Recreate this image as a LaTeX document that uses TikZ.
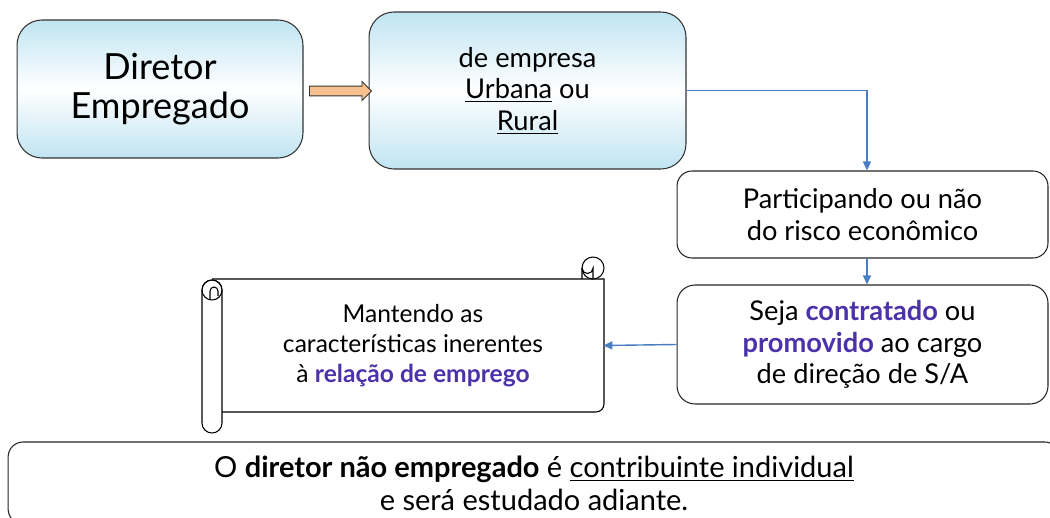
\documentclass[tikz,border=0pt]{standalone}
\usepackage{fontspec}
\setmainfont{Lato}
\usetikzlibrary{shapes.arrows,arrows.meta,positioning,calc}
\definecolor{boxblue}{RGB}{192,228,242}
\definecolor{arrowfill}{RGB}{248,192,142}
\definecolor{linkblue}{RGB}{74,126,194}
\definecolor{purpletext}{RGB}{75,50,170}
\newcommand{\hl}[1]{\textbf{\color{purpletext}#1}}
\tikzset{
  bluebox/.style={draw=black!80, line width=0.6pt, rounded corners=0.5cm,
    top color=boxblue, bottom color=boxblue, middle color=white,
    align=center, inner sep=0pt},
  whitebox/.style={draw=black!85, line width=0.6pt, rounded corners=0.3cm,
    fill=white, align=center, inner sep=0pt},
  boxtext/.style={font=\fontsize{15.5}{18}\selectfont},
  link/.style={draw=linkblue, line width=0.8pt,
    -{Triangle[length=0.18cm,width=0.16cm]}},
  bigarrow/.style={single arrow, draw=black!80, fill=arrowfill, line width=0.5pt,
    minimum height=1.24cm, minimum width=0.36cm, inner sep=0.09cm,
    single arrow head extend=0.09cm},
  scrollline/.style={line width=0.6pt}
}

\begin{document}
\begin{tikzpicture}[x=0.02cm, y=-0.02cm]
	\clip (0,0) rectangle (1050,517);
	\useasboundingbox (0,0) rectangle (1050,517);

	% top row
	\node[bluebox, font=\fontsize{20.5}{22.5}\selectfont,
		minimum width=5.72cm, minimum height=2.76cm] (dir) at (160,89)
	{Diretor\\Empregado};
	\node[bluebox, boxtext, minimum width=6.34cm, minimum height=3.14cm] (emp) at (527.5,90.5)
	{de empresa\\\underline{Urbana} ou\\\underline{Rural}};
	\node[bigarrow] (arw) at (338,91) {};

	% right column
	\node[whitebox, boxtext, minimum width=7.42cm, minimum height=1.74cm] (risco) at (862.5,214.5)
	{Participando ou não\\do risco econômico};
	\node[whitebox, boxtext, rounded corners=0.36cm, minimum width=7.42cm,
		minimum height=2.38cm] (cargo) at (862.5,344.5)
	{Seja \hl{contratado} ou\\\hl{promovido} ao cargo\\de direção de S/A};

	% scroll
	\draw[scrollline, fill=white] (212,279) -- (582,279) -- (582,268)
		-- (582,268) |- (604,279) -- (604,404)
		arc[start angle=0, end angle=90, radius=8] -- (222,412);
	\draw[scrollline, fill=white] (593,268) circle[radius=11];
	\draw[scrollline] (593,279) -- (593,268)
		arc[start angle=0, end angle=180, radius=5.5];
	\draw[scrollline, fill=white] (202,290)
		arc[start angle=180, end angle=360, radius=10] -- (222,423)
		arc[start angle=0, end angle=180, radius=10] -- cycle;
	\draw[scrollline] (212,290) circle[radius=10];
	\draw[scrollline] (210,300) -- (210,291)
		arc[start angle=180, end angle=360, radius=4] -- (218,296);
	\node[align=center, inner sep=0pt, font=\fontsize{14}{17}\selectfont,
		minimum width=7.6cm, minimum height=2.62cm] (scr) at (413,345.5)
	{Mantendo as\\características inerentes\\à \hl{relação de emprego}};

	% bottom
	\node[whitebox, font=\fontsize{16.5}{18.7}\selectfont,
		minimum width=21.04cm, minimum height=1.64cm] (nota) at (534,483)
	{O \textbf{diretor não empregado} é \underline{contribuinte individual}\\
	 e será estudado adiante.};

	% connectors
	\draw[link] (emp.east) -| ($(risco.north)+(4.5,0)$);
	\draw[link] ($(risco.south)+(4.5,0)$) -- ($(cargo.north)+(4.5,0)$);
	\draw[link] (cargo.west) -- (scr.east);
\end{tikzpicture}
\end{document}
